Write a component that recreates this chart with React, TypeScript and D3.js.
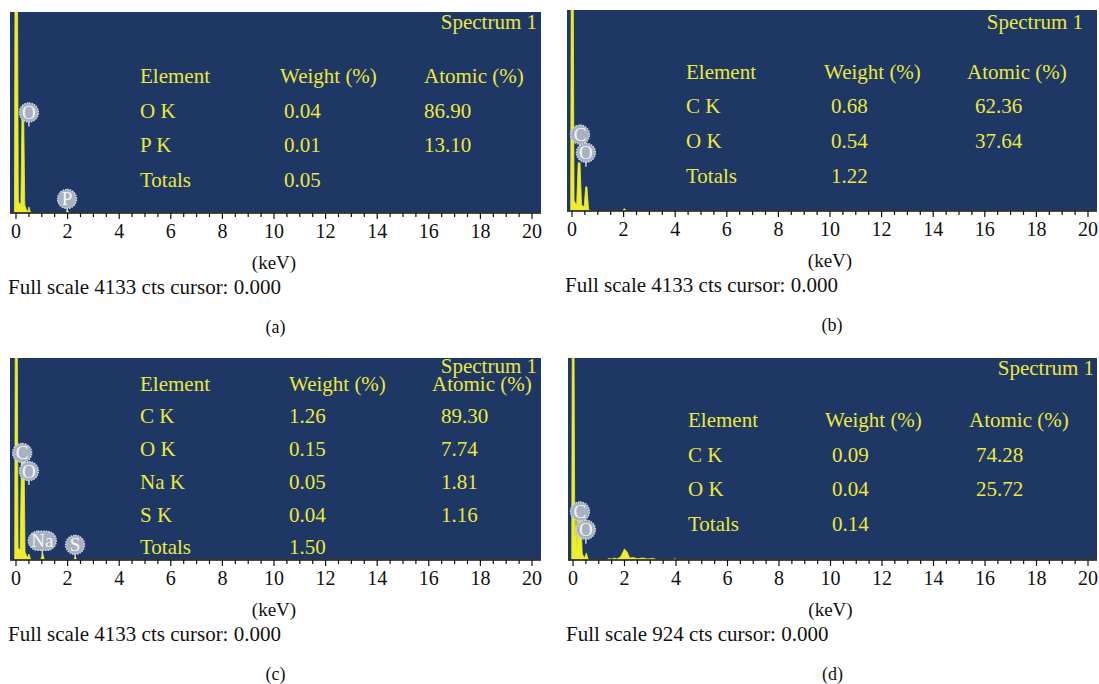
import React from "react";
import * as d3 from "d3";

// ---- data ----
const xTicks = [0, 2, 4, 6, 8, 10, 12, 14, 16, 18, 20];
const minorTicks = d3.range(0, 20.01, 0.5);

const tableHeader = ["Element", "Weight (%)", "Atomic (%)"];

const elementsA = ["O K", "P K", "Totals"];
const weightA = ["0.04", "0.01", "0.05"];
const atomicA = ["86.90", "13.10", ""];

const elementsB = ["C K", "O K", "Totals"];
const weightB = ["0.68", "0.54", "1.22"];
const atomicB = ["62.36", "37.64", ""];

const elementsC = ["C K", "O K", "Na K", "S K", "Totals"];
const weightC = ["1.26", "0.15", "0.05", "0.04", "1.50"];
const atomicC = ["89.30", "7.74", "1.81", "1.16", ""];

const elementsD = ["C K", "O K", "Totals"];
const weightD = ["0.09", "0.04", "0.14"];
const atomicD = ["74.28", "25.72", ""];

const fullScale = ["4133", "4133", "4133", "924"];
const captions = ["(a)", "(b)", "(c)", "(d)"];

// spectra: [keV, fraction of full scale]
const specA: [number, number][] = [
  [-0.25, 0], [-0.06, 0], [-0.04, 1.06], [0.06, 1.06], [0.09, 0.06], [0.15, 0.04],
  [0.19, 0.05], [0.23, 0.47], [0.3, 0.47], [0.34, 0.04], [0.42, 0.01], [0.47, 0.01],
  [0.5, 0.03], [0.56, 0.005], [0.62, 0], [1.94, 0], [2.0, 0.012], [2.08, 0], [20.4, 0],
];
const specB: [number, number][] = [
  [-0.25, 0], [-0.05, 0], [-0.03, 1.06], [0.05, 1.06], [0.08, 0.05], [0.18, 0.03],
  [0.24, 0.24], [0.31, 0.24], [0.37, 0.03], [0.47, 0.02], [0.53, 0.12], [0.58, 0.12],
  [0.64, 0.01], [0.7, 0], [1.95, 0], [2.03, 0.012], [2.12, 0], [20.4, 0],
];
const specC: [number, number][] = [
  [-0.25, 0], [-0.05, 0], [-0.03, 1.06], [0.05, 1.06], [0.08, 0.06], [0.16, 0.05],
  [0.22, 0.55], [0.31, 0.55], [0.35, 0.04], [0.44, 0.01], [0.5, 0.03], [0.56, 0.005],
  [0.62, 0], [0.96, 0], [1.03, 0.035], [1.1, 0], [2.24, 0], [2.3, 0.015], [2.36, 0], [20.4, 0],
];
const specD: [number, number][] = [
  [-0.25, 0], [-0.05, 0], [-0.03, 1.06], [0.04, 1.06], [0.07, 0.1], [0.12, 0.2],
  [0.15, 0.05], [0.2, 0.25], [0.25, 0.08], [0.3, 0.22], [0.36, 0.03], [0.45, 0.01],
  [0.52, 0.035], [0.58, 0.005], [0.7, 0], [1.3, 0], [1.4, 0.008], [1.5, 0.004],
  [1.6, 0.01], [1.7, 0.005], [1.85, 0.015], [2.0, 0.055], [2.1, 0.04], [2.2, 0.01],
  [2.35, 0.012], [2.5, 0.006], [2.7, 0.01], [2.9, 0.005], [3.1, 0.008], [3.3, 0],
  [3.85, 0], [3.95, 0.006], [4.05, 0], [20.4, 0],
];

// peak markers: [symbol, keV, fraction]
const markersA: [string, number, number][] = [["O", 0.5, 0.5], ["P", 1.98, 0.07]];
const markersB: [string, number, number][] = [["C", 0.31, 0.38], ["O", 0.54, 0.29]];
const markersC: [string, number, number][] = [
  ["C", 0.24, 0.53], ["O", 0.5, 0.44], ["Na", 1.02, 0.095], ["S", 2.29, 0.075],
];
const markersD: [string, number, number][] = [["C", 0.27, 0.24], ["O", 0.5, 0.15]];

// ---- layout ----
const SERIF = "'Liberation Serif', 'DejaVu Serif', serif";
const BOX = "#1e3765";
const YELLOW = "#ece83c";
const SPEC = "#eeec2e";

type Panel = {
  id: string;
  box: [number, number, number, number]; // left, top, right, bottom
  x0: number;
  x20: number;
  cols: number[];
  valCols: number[];
  rowY: number[];
  specTitle: [number, number];
  elements: string[];
  weight: string[];
  atomic: string[];
  spec: [number, number][];
  markers: [string, number, number][];
  below: number; // y of tick label baseline
};

const panels: Panel[] = [
  {
    id: "a", box: [10, 12, 541, 213], x0: 16, x20: 532,
    cols: [140, 280, 424], valCols: [140, 284, 424],
    rowY: [76, 111, 145, 180], specTitle: [537, 22],
    elements: elementsA, weight: weightA, atomic: atomicA, spec: specA, markers: markersA,
    below: 238,
  },
  {
    id: "b", box: [567, 10, 1097, 211], x0: 572, x20: 1088,
    cols: [686, 824, 967], valCols: [686, 831, 975],
    rowY: [72, 106, 141, 176], specTitle: [1083, 22],
    elements: elementsB, weight: weightB, atomic: atomicB, spec: specB, markers: markersB,
    below: 236,
  },
  {
    id: "c", box: [10, 358, 541, 560], x0: 16, x20: 532,
    cols: [140, 289, 432], valCols: [140, 289, 441],
    rowY: [384, 416, 449, 482, 515, 547], specTitle: [537, 366],
    elements: elementsC, weight: weightC, atomic: atomicC, spec: specC, markers: markersC,
    below: 585,
  },
  {
    id: "d", box: [568, 358, 1097, 560], x0: 573, x20: 1088,
    cols: [688, 825, 969], valCols: [688, 832, 976],
    rowY: [420, 455, 489, 524], specTitle: [1094, 368],
    elements: elementsD, weight: weightD, atomic: atomicD, spec: specD, markers: markersD,
    below: 585,
  },
];

const SpectrumPanel = ({ p, i }: { p: Panel; i: number }) => {
  const [l, t, r, b] = p.box;
  const x = d3.scaleLinear().domain([0, 20]).range([p.x0, p.x20]);
  const y = d3.scaleLinear().domain([0, 1]).range([b, t]);
  const area = d3
    .area<[number, number]>()
    .x((d) => x(d[0]))
    .y0(b)
    .y1((d) => y(d[1]));
  const mid = (l + r) / 2;
  const tableSize = 21;

  return (
    <g>
      <defs>
        <clipPath id={`clip-${p.id}`}>
          <rect x={l} y={t} width={r - l} height={b - t} />
        </clipPath>
      </defs>
      <rect x={l} y={t} width={r - l} height={b - t} fill={BOX} />
      <path
        d={area(p.spec) || ""}
        fill={SPEC}
        stroke={SPEC}
        strokeWidth={0.8}
        clipPath={`url(#clip-${p.id})`}
      />

      {/* peak markers */}
      {p.markers.map(([sym, kev, frac]) => {
        const cx = x(kev);
        const cy = y(frac);
        const w = sym.length > 1 ? 14 : 9.5;
        return (
          <g key={sym}>
            <line x1={cx} x2={cx} y1={cy + 9} y2={cy + 14} stroke="#e6e9ef" strokeWidth={1.3} />
            <rect
              x={cx - w}
              y={cy - 9.5}
              width={w * 2}
              height={19}
              rx={9.5}
              fill="#a7b1c1"
              stroke="#d3d8e1"
              strokeWidth={1.4}
              strokeDasharray="1.6,1"
            />
            <text
              x={cx}
              y={cy + 6.5}
              textAnchor="middle"
              fontFamily={SERIF}
              fontSize={19}
              fill="#f6f6f6"
            >
              {sym}
            </text>
          </g>
        );
      })}

      {/* title + table */}
      <text
        x={p.specTitle[0]}
        y={p.specTitle[1] + 7}
        textAnchor="end"
        fontFamily={SERIF}
        fontSize={tableSize}
        fill={YELLOW}
      >
        Spectrum 1
      </text>
      {tableHeader.map((h, k) => (
        <text
          key={h}
          x={p.cols[k]}
          y={p.rowY[0] + 7}
          fontFamily={SERIF}
          fontSize={tableSize}
          fill={YELLOW}
        >
          {h}
        </text>
      ))}
      {p.elements.map((el, k) => (
        <g key={el}>
          <text x={p.valCols[0]} y={p.rowY[k + 1] + 7} fontFamily={SERIF} fontSize={tableSize} fill={YELLOW}>
            {el}
          </text>
          <text x={p.valCols[1]} y={p.rowY[k + 1] + 7} fontFamily={SERIF} fontSize={tableSize} fill={YELLOW}>
            {p.weight[k]}
          </text>
          <text x={p.valCols[2]} y={p.rowY[k + 1] + 7} fontFamily={SERIF} fontSize={tableSize} fill={YELLOW}>
            {p.atomic[k]}
          </text>
        </g>
      ))}

      {/* axis */}
      <line x1={l} x2={r} y1={b} y2={b} stroke="#111" strokeWidth={1.5} />
      {minorTicks.map((v) => (
        <line
          key={v}
          x1={x(v)}
          x2={x(v)}
          y1={b}
          y2={b + (v % 2 === 0 ? 6 : 4)}
          stroke="#111"
          strokeWidth={1.2}
        />
      ))}
      {xTicks.map((v) => (
        <text
          key={v}
          x={x(v)}
          y={p.below}
          textAnchor="middle"
          fontFamily={SERIF}
          fontSize={20}
          fill="#111"
        >
          {v}
        </text>
      ))}
      <text x={x(10)} y={p.below + 31} textAnchor="middle" fontFamily={SERIF} fontSize={19} fill="#111">
        (keV)
      </text>
      <text x={l - 2} y={p.below + 56} fontFamily={SERIF} fontSize={21} fill="#111">
        {`Full scale ${fullScale[i]} cts cursor: 0.000`}
      </text>
      <text x={mid} y={p.below + 95} textAnchor="middle" fontFamily={SERIF} fontSize={18} fill="#111">
        {captions[i]}
      </text>
    </g>
  );
};

export default function App() {
  return (
    <svg
      width={1099}
      height={684}
      style={{ position: "absolute", left: 0, top: 0, background: "#fff" }}
    >
      {panels.map((p, i) => (
        <SpectrumPanel key={p.id} p={p} i={i} />
      ))}
    </svg>
  );
}
